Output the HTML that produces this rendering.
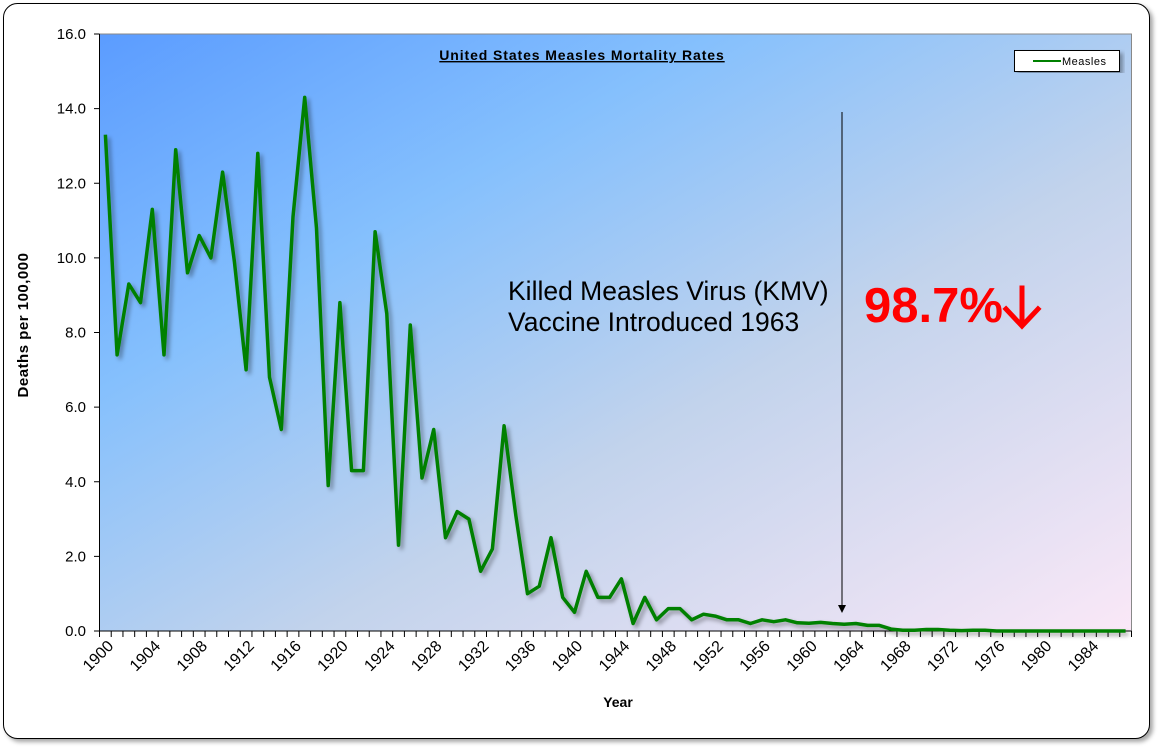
<!DOCTYPE html>
<html><head><meta charset="utf-8"><style>
html,body{margin:0;padding:0;background:#fff;}
svg{display:block;font-family:"Liberation Sans",Arial,sans-serif;}
</style></head><body>
<svg id="s" width="1159" height="748" viewBox="0 0 1159 748" xmlns="http://www.w3.org/2000/svg">
<defs>
<linearGradient id="bg" x1="0" y1="0" x2="1" y2="1">
<stop offset="0" stop-color="#5b9cff"/>
<stop offset="0.3" stop-color="#85c0fd"/>
<stop offset="0.6" stop-color="#c2d3ec"/>
<stop offset="1" stop-color="#fae8f7"/>
</linearGradient>
<filter id="sh" x="-5%" y="-5%" width="110%" height="110%"><feDropShadow dx="3" dy="3" stdDeviation="2" flood-color="#000" flood-opacity="0.35"/></filter>
</defs>
<rect x="3.5" y="3.5" width="1146" height="735" rx="14" fill="#fff" stroke="#000" stroke-width="1" filter="url(#sh)"/>
<rect x="99.5" y="34" width="1032" height="597" fill="url(#bg)" stroke="#888" stroke-width="1"/>
<line x1="99.5" y1="34" x2="99.5" y2="631" stroke="#000"/>
<line x1="99.5" y1="631" x2="1131.5" y2="631" stroke="#000"/>
<g id="yax" font-size="15" text-anchor="end" fill="#000"></g>
<g id="xax" fill="#000"></g>
<text x="582" y="60" font-size="14" font-weight="bold" text-anchor="middle" text-decoration="underline" letter-spacing="0.9">United States Measles Mortality  Rates</text>
<text transform="translate(28,325) rotate(-90)" font-size="15" font-weight="bold" text-anchor="middle" letter-spacing="0.5">Deaths per 100,000</text>
<text x="618" y="707" font-size="14" font-weight="bold" text-anchor="middle">Year</text>
<text x="508" y="300" font-size="26.5">Killed Measles Virus (KMV)</text>
<text x="508" y="331" font-size="26.5">Vaccine Introduced 1963</text>
<text x="864" y="322" font-size="49" font-weight="bold" fill="#ff0000">98.7%</text>
<g stroke="#ff0000" stroke-width="5" fill="none" stroke-linecap="square"><line x1="1022" y1="288" x2="1022" y2="324"/><polyline points="1006,309 1022,326 1038,309"/></g>
<line x1="842" y1="112" x2="842" y2="606" stroke="#000" stroke-width="1"/>
<polygon points="838,605 846,605 842,613" fill="#000"/>
<path id="ln" fill="none" stroke="#008000" stroke-width="3.5" stroke-linejoin="round" filter="url(#sh)"/>
<rect x="1014.5" y="50.5" width="105" height="21" fill="#fff" stroke="#000" filter="url(#sh)"/>
<line x1="1033" y1="61" x2="1061" y2="61" stroke="#008000" stroke-width="2"/>
<text x="1062" y="65" font-size="11" letter-spacing="0.5">Measles</text>
</svg>
<script>
var v=[13.3,7.4,9.3,8.8,11.3,7.4,12.9,9.6,10.6,10.0,12.3,9.9,7.0,12.8,6.8,5.4,11.1,14.3,10.8,3.9,8.8,4.3,4.3,10.7,8.5,2.3,8.2,4.1,5.4,2.5,3.2,3.0,1.6,2.2,5.5,3.1,1.0,1.2,2.5,0.9,0.5,1.6,0.9,0.9,1.4,0.2,0.9,0.3,0.6,0.6,0.3,0.45,0.4,0.3,0.3,0.2,0.3,0.25,0.3,0.22,0.21,0.23,0.2,0.18,0.2,0.15,0.15,0.05,0.02,0.02,0.04,0.04,0.02,0.01,0.02,0.02,0,0,0,0,0,0,0,0,0,0,0,0];
var W=1032/88,X0=99.5,Y=function(a){return 631-a*37.3125;};
var d="";for(var i=0;i<v.length;i++){d+=(i?"L":"M")+(X0+W*(i+0.5)).toFixed(1)+","+Y(v[i]).toFixed(1);}
document.getElementById("ln").setAttribute("d",d);
var ns="http://www.w3.org/2000/svg",ya=document.getElementById("yax"),xa=document.getElementById("xax");
for(var k=0;k<=8;k++){var y=Y(k*2);var t=document.createElementNS(ns,"text");t.setAttribute("x",86);t.setAttribute("y",y+5);t.textContent=(k*2).toFixed(1);ya.appendChild(t);
var l=document.createElementNS(ns,"line");l.setAttribute("x1",94);l.setAttribute("x2",99.5);l.setAttribute("y1",y);l.setAttribute("y2",y);l.setAttribute("stroke","#000");ya.appendChild(l);}
for(var i=0;i<=88;i++){var x=X0+W*i;var l=document.createElementNS(ns,"line");l.setAttribute("x1",x);l.setAttribute("x2",x);l.setAttribute("y1",631);l.setAttribute("y2",637);l.setAttribute("stroke","#000");xa.appendChild(l);}
for(var yr=1900;yr<=1984;yr+=4){var cx=X0+W*(yr-1900+0.5);var t=document.createElementNS(ns,"text");t.setAttribute("text-anchor","end");t.setAttribute("font-size","16");t.setAttribute("transform","translate("+(cx+9)+",647) rotate(-45)");t.textContent=yr;xa.appendChild(t);}
</script>
</body></html>
